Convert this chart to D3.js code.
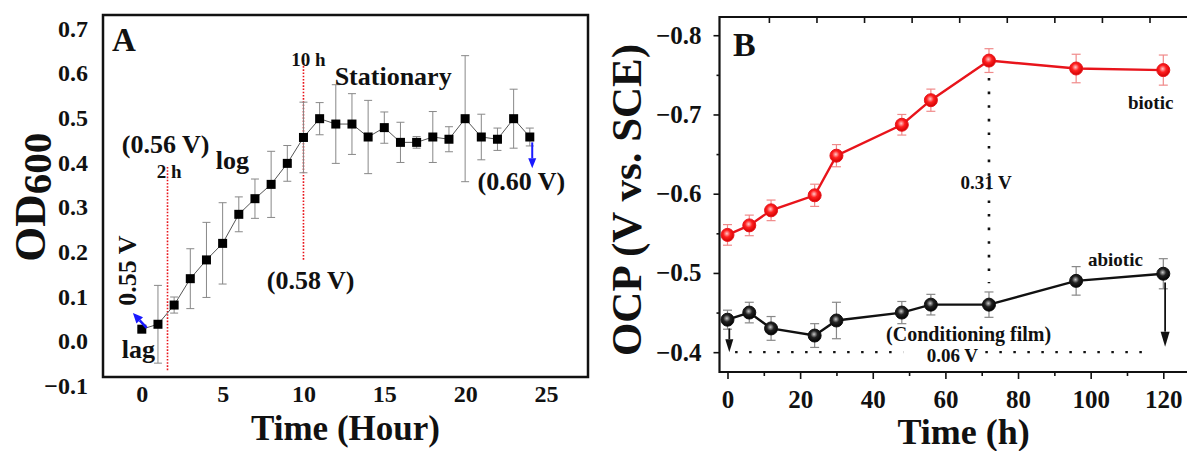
<!DOCTYPE html>
<html lang="en">
<head>
<meta charset="utf-8">
<title>OD600 growth curve and OCP</title>
<script src="https://cdn.jsdelivr.net/npm/d3@7/dist/d3.min.js"></script>
<style>
  body { margin: 0; background: #fff; }
  svg text { font-family: "Liberation Serif", "Times New Roman", serif; font-weight: bold; fill: #111; }
</style>
</head>
<body>
<script>
// ---- panel A : growth curve ----
var hours = [0,1,2,3,4,5,6,7,8,9,10,11,12,13,14,15,16,17,18,19,20,21,22,23,24];
var od600 = [0.027,0.038,0.081,0.140,0.182,0.219,0.284,0.319,0.351,0.398,0.456,0.498,0.486,0.486,
             0.457,0.478,0.445,0.445,0.457,0.452,0.498,0.457,0.452,0.498,0.457];
var od600Err = [0.004,0.087,0.018,0.067,0.084,0.091,0.039,0.044,0.074,0.040,0.079,0.036,0.088,0.068,
                0.082,0.035,0.045,0.013,0.057,0.028,0.141,0.051,0.025,0.066,0.020];
var ticksAx = [0,5,10,15,20,25];
var ticksAy = [-0.1,0.0,0.1,0.2,0.3,0.4,0.5,0.6,0.7];

// ---- panel B : OCP ----
var timeB = [0,6,12,24,30,48,56,72,96,120];
var biotic = [-0.548,-0.560,-0.579,-0.598,-0.648,-0.687,-0.718,-0.768,-0.758,-0.756];
var bioticErr = [0.013,0.013,0.013,0.014,0.014,0.013,0.014,0.015,0.018,0.019];
var abiotic = [-0.441,-0.450,-0.430,-0.421,-0.440,-0.450,-0.460,-0.460,-0.490,-0.499];
var abioticErr = [0.012,0.013,0.015,0.015,0.023,0.014,0.013,0.016,0.018,0.019];
var ticksBx = [0,20,40,60,80,100,120];
var ticksBxMinor = [10,30,50,70,90,110];
var ticksBy = [-0.8,-0.7,-0.6,-0.5,-0.4];
var ticksByMinor = [-0.75,-0.65,-0.55,-0.45];
var ticksBtop = [11.4,24.5,37.6,50.7,63.8,76.9,90.0,103.1,116.2];

var w = 1187, h = 451;
var svg = d3.select("body").append("svg").attr("width", w).attr("height", h);

// ================= panel A =================
var xA = d3.scaleLinear().domain([-2.4, 27.6]).range([103, 588]);
var yA = d3.scaleLinear().domain([-0.08, 0.73]).range([377, 15]);
var gA = svg.append("g");

// labels only, no tick marks
gA.append("g").attr("transform", "translate(103,0)")
  .call(d3.axisLeft(yA).tickValues(ticksAy).tickFormat(d3.format(".1f")).tickSize(0).tickPadding(15));
gA.append("g").attr("transform", "translate(0,377)")
  .call(d3.axisBottom(xA).tickValues(ticksAx).tickSize(0).tickPadding(8));
gA.selectAll(".domain").remove();
gA.selectAll(".tick text").attr("font-size", 24).attr("fill", "#111");

// red dotted phase lines
function vdots(g, x, y1, y2, color, dash, width) {
  g.append("line").attr("x1", x).attr("x2", x).attr("y1", y1).attr("y2", y2)
    .attr("stroke", color).attr("stroke-width", width).attr("stroke-dasharray", dash);
}
vdots(gA, xA(1.59), yA(0.39), yA(-0.065), "#e8141b", "1.6,1.6", 1.6);
vdots(gA, xA(10), yA(0.63), yA(0.18), "#e8141b", "1.6,1.6", 1.6);

// connecting line
gA.append("path").datum(hours)
  .attr("d", d3.line().x(function(d){ return xA(d); }).y(function(d, i){ return yA(od600[i]); }))
  .attr("fill", "none").attr("stroke", "#555").attr("stroke-width", 1);

// error bars
hours.forEach(function(t, i) {
  var x = xA(t), y1 = yA(od600[i] + od600Err[i]), y2 = yA(od600[i] - od600Err[i]);
  gA.append("line").attr("x1", x).attr("x2", x).attr("y1", y1).attr("y2", y2).attr("stroke", "#888").attr("stroke-width", 1);
  gA.append("line").attr("x1", x - 4).attr("x2", x + 4).attr("y1", y1).attr("y2", y1).attr("stroke", "#888").attr("stroke-width", 1);
  gA.append("line").attr("x1", x - 4).attr("x2", x + 4).attr("y1", y2).attr("y2", y2).attr("stroke", "#888").attr("stroke-width", 1);
});

// square markers
gA.selectAll("rect.pt").data(hours).enter().append("rect")
  .attr("x", function(d){ return xA(d) - 4.5; })
  .attr("y", function(d, i){ return yA(od600[i]) - 4.5; })
  .attr("width", 9).attr("height", 9).attr("fill", "#000");

// frame
gA.append("rect").attr("x", 103).attr("y", 15).attr("width", 485).attr("height", 362)
  .attr("fill", "none").attr("stroke", "#111").attr("stroke-width", 2.5);

function arrow(g, x1, y1, x2, y2, color, sw, hl, hw) {
  var a = Math.atan2(y2 - y1, x2 - x1);
  var bx = x2 - hl * Math.cos(a), by = y2 - hl * Math.sin(a);
  g.append("line").attr("x1", x1).attr("y1", y1).attr("x2", bx).attr("y2", by)
    .attr("stroke", color).attr("stroke-width", sw);
  var px = -Math.sin(a) * hw / 2, py = Math.cos(a) * hw / 2;
  g.append("path").attr("d", "M" + x2 + "," + y2 + "L" + (bx + px) + "," + (by + py) + "L" + (bx - px) + "," + (by - py) + "Z")
    .attr("fill", color);
}
arrow(gA, xA(0.3), yA(0.030), xA(-0.55), yA(0.063), "#1a1aff", 2.5, 10, 9);
arrow(gA, xA(24.15), yA(0.445), xA(24.15), yA(0.387), "#1a1aff", 2, 10, 8);

function label(g, txt, x, y, size, anchor) {
  return g.append("text").attr("x", x).attr("y", y).attr("font-size", size)
    .attr("text-anchor", anchor || "start").text(txt);
}
label(gA, "A", 112, 51, 33);
label(gA, "10 h", xA(9.25), yA(0.616), 19);
label(gA, "Stationary", xA(11.93), yA(0.573), 26);
label(gA, "(0.56 V)", xA(-1.24), yA(0.421), 26);
label(gA, "2 h", xA(0.93), yA(0.365), 19);
label(gA, "log", xA(4.57), yA(0.386), 26);
label(gA, "(0.58 V)", xA(7.73), yA(0.117), 26);
label(gA, "(0.60 V)", xA(20.77), yA(0.338), 26);
label(gA, "lag", xA(-1.24), yA(-0.037), 26);
gA.append("text").attr("transform", "translate(136," + yA(0.158) + ") rotate(-90)")
  .attr("font-size", 26).attr("text-anchor", "middle").text("0.55 V");

// axis titles
gA.append("text").attr("x", xA(12.6)).attr("y", 440).attr("font-size", 35)
  .attr("text-anchor", "middle").text("Time (Hour)");
var od = gA.append("text").attr("transform", "translate(45," + yA(0.322) + ") rotate(-90)")
  .attr("font-size", 45).attr("text-anchor", "middle");
od.append("tspan").text("OD");
od.append("tspan").attr("dy", 6).attr("font-size", 41).text("600");

// ================= panel B =================
var xB = d3.scaleLinear().domain([-2.2, 126.8]).range([719.5, 1188]);
var yB = d3.scaleLinear().domain([-0.375, -0.823]).range([372, 17]);
var gB = svg.append("g");

var defs = svg.append("defs");
function sphere(id, c0, c1, c2) {
  var gr = defs.append("radialGradient").attr("id", id).attr("cx", "45%").attr("cy", "40%").attr("r", "60%");
  gr.append("stop").attr("offset", "0%").attr("stop-color", c0);
  gr.append("stop").attr("offset", "45%").attr("stop-color", c1);
  gr.append("stop").attr("offset", "100%").attr("stop-color", c2);
}
sphere("redBall", "#ffc8c8", "#ff2020", "#d00000");
sphere("blackBall", "#c8c8c8", "#222", "#000");

// axes
gB.append("g").attr("transform", "translate(0,372)")
  .call(d3.axisBottom(xB).tickValues(ticksBx).tickSize(7).tickPadding(11));
gB.append("g").attr("transform", "translate(0,372)")
  .call(d3.axisBottom(xB).tickValues(ticksBxMinor).tickSize(4).tickFormat(""));
gB.append("g").attr("transform", "translate(719.5,0)")
  .call(d3.axisLeft(yB).tickValues(ticksBy).tickFormat(d3.format(".1f")).tickSize(6).tickPadding(12));
gB.append("g").attr("transform", "translate(719.5,0)")
  .call(d3.axisLeft(yB).tickValues(ticksByMinor).tickSize(3).tickFormat(""));
gB.append("g").attr("transform", "translate(0,17)")
  .call(d3.axisTop(xB).tickValues(ticksBtop).tickSize(-6).tickFormat(""));
gB.selectAll(".tick line").attr("stroke", "#111").attr("stroke-width", 1.6);
gB.selectAll(".tick text").attr("font-size", 25).attr("fill", "#111");
// frame lines (right side is cut off by the picture edge)
gB.selectAll(".domain").remove();
gB.append("path").attr("d", "M" + 1190 + ",17H719.5V372H1190")
  .attr("fill", "none").attr("stroke", "#111").attr("stroke-width", 2.2);

// dotted guides
gB.append("line").attr("x1", xB(72)).attr("x2", xB(72)).attr("y1", yB(-0.746)).attr("y2", yB(-0.487))
  .attr("stroke", "#111").attr("stroke-width", 2.6).attr("stroke-dasharray", "2.6,11");
gB.append("line").attr("x1", xB(2.1)).attr("x2", xB(48.4)).attr("y1", yB(-0.4)).attr("y2", yB(-0.4))
  .attr("stroke", "#111").attr("stroke-width", 2.2).attr("stroke-dasharray", "2.5,11.5");
gB.append("line").attr("x1", xB(71)).attr("x2", xB(117)).attr("y1", yB(-0.4)).attr("y2", yB(-0.4))
  .attr("stroke", "#111").attr("stroke-width", 2.2).attr("stroke-dasharray", "2.5,11.5");

function series(vals, errs, lineColor, errColor, fillId) {
  var g = gB.append("g");
  timeB.forEach(function(t, i) {
    var x = xB(t), y1 = yB(vals[i] - errs[i]), y2 = yB(vals[i] + errs[i]);
    g.append("line").attr("x1", x).attr("x2", x).attr("y1", y1).attr("y2", y2).attr("stroke", errColor).attr("stroke-width", 1.2);
    g.append("line").attr("x1", x - 4.5).attr("x2", x + 4.5).attr("y1", y1).attr("y2", y1).attr("stroke", errColor).attr("stroke-width", 1.2);
    g.append("line").attr("x1", x - 4.5).attr("x2", x + 4.5).attr("y1", y2).attr("y2", y2).attr("stroke", errColor).attr("stroke-width", 1.2);
  });
  g.append("path").datum(timeB)
    .attr("d", d3.line().x(function(d){ return xB(d); }).y(function(d, i){ return yB(vals[i]); }))
    .attr("fill", "none").attr("stroke", lineColor).attr("stroke-width", 2.4);
  g.selectAll("circle").data(timeB).enter().append("circle")
    .attr("cx", function(d){ return xB(d); })
    .attr("cy", function(d, i){ return yB(vals[i]); })
    .attr("r", 6.5).attr("fill", "url(#" + fillId + ")").attr("stroke", lineColor).attr("stroke-width", 1);
}
series(biotic, bioticErr, "#e8141b", "#f08a8a", "redBall");
series(abiotic, abioticErr, "#111", "#888", "blackBall");

arrow(gB, xB(0.5), yB(-0.430), xB(0.5), yB(-0.400), "#111", 1.8, 13, 8);
arrow(gB, xB(120.5), yB(-0.488), xB(120.5), yB(-0.407), "#111", 1.8, 15, 9);

label(gB, "B", 733, 56, 34);
label(gB, "biotic", 1128, 109, 19);
label(gB, "abiotic", 1088, 266, 19);
label(gB, "0.31 V", xB(71.2), 189, 19, "middle");
label(gB, "(Conditioning film)", xB(66.4), 341, 20, "middle");
label(gB, "0.06 V", 926.7, 362, 19);

gB.append("text").attr("x", xB(65)).attr("y", 444).attr("font-size", 36)
  .attr("text-anchor", "middle").text("Time (h)");
gB.append("text").attr("transform", "translate(641,200) rotate(-90)")
  .attr("font-size", 43).attr("text-anchor", "middle").text("OCP (V vs. SCE)");
</script>
</body>
</html>
